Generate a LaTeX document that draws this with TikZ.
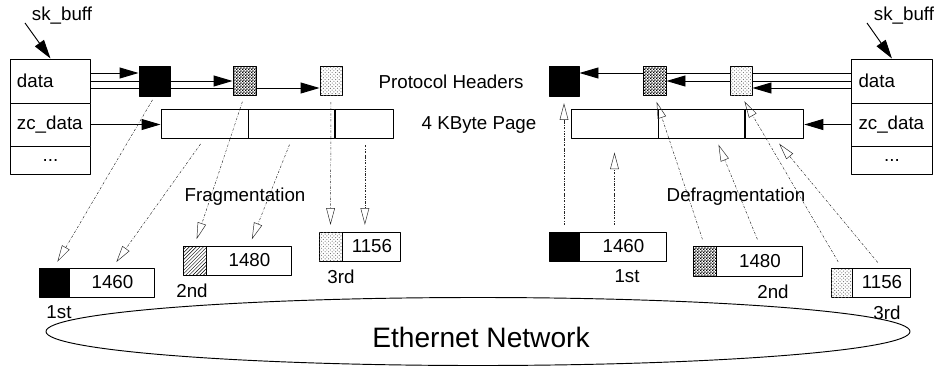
\documentclass[tikz,border=0pt]{standalone}
\usepackage{fontspec}
\setmainfont{Liberation Sans}
\usepackage{tikz}
\usetikzlibrary{positioning, calc, arrows.meta, patterns, shapes.geometric, backgrounds}

\newcommand{\pxu}{0.03cm}
\pgfdeclarepatternformonly{fine checks}{\pgfqpoint{0pt}{0pt}}{\pgfqpoint{2.4pt}{2.4pt}}{\pgfqpoint{2.4pt}{2.4pt}}{%
  \pgfpathrectangle{\pgfqpoint{0pt}{0pt}}{\pgfqpoint{1.2pt}{1.2pt}}%
  \pgfpathrectangle{\pgfqpoint{1.2pt}{1.2pt}}{\pgfqpoint{1.2pt}{1.2pt}}%
  \pgfusepath{fill}}

\begin{document}
\begin{tikzpicture}[x=0.03cm, y=-0.03cm, line join=round,
    lbl/.style={font=\fontsize{16}{19}\selectfont, inner sep=0pt},
    box/.style={draw, line width=0.8pt, inner sep=0pt, fill=white, minimum height=29*\pxu},
    skrow/.style={box, lbl, text width=2.01cm, inner xsep=0.2cm, align=left},
    hdrblack/.style={box, fill=black},
    hdrdark/.style={box, postaction={pattern=fine checks}},
    hdrlight/.style={box, postaction={pattern=crosshatch dots, pattern color=black!60}},
    hdrhatch/.style={box, postaction={pattern=north east lines}},
    ptr/.style={line width=0.8pt, -{Triangle[length=0.57cm, width=0.33cm]}},
    frag/.style={line width=0.4pt, black!85, dash pattern=on 2pt off 1.2pt on 0.4pt off 1.2pt,
                 -{Triangle[open, length=0.5cm, width=0.26cm, line width=0.4pt]},
                 shorten <=0.2cm, shorten >=0.2cm},
    node distance=0pt]
                \useasboundingbox (0,0) rectangle (936,366);
                % left sk_buff
                \node[skrow, minimum height=44*\pxu] (lsk1) at (50.5,81) {data};
                \node[skrow, minimum height=43*\pxu] (lsk2) at (50.5,124.5) {zc\_data};
                \node[skrow, minimum height=28*\pxu, align=center] (lsk3) at (50.5,160) {...};
                \node[lbl] (lskl) at (62,16) {sk\_buff};
                \coordinate (lskp) at (25,23);
                % right sk_buff
                \node[skrow, minimum height=44*\pxu] (rsk1) at (892,81) {data};
                \node[skrow, minimum height=43*\pxu] (rsk2) at (892,124.5) {zc\_data};
                \node[skrow, minimum height=28*\pxu, align=center] (rsk3) at (892,160) {...};
                \node[lbl] (rskl) at (904,16) {sk\_buff};
                \coordinate (rskp) at (867,23);
                % protocol headers
                \node[hdrblack, minimum width=31*\pxu, minimum height=30*\pxu] (lh1) at (154.5,81) {};
                \node[hdrdark, minimum width=23*\pxu] (lh2) at (244.5,80.5) {};
                \node[hdrlight, minimum width=22*\pxu] (lh3) at (331,80.5) {};
                \node[hdrblack, minimum width=30*\pxu, minimum height=30*\pxu] (rh1) at (564,81) {};
                \node[hdrdark, minimum width=23*\pxu] (rh2) at (654.5,80.5) {};
                \node[hdrlight, minimum width=22*\pxu] (rh3) at (741,80.5) {};
                \node[lbl] (hdrl) at (451,82) {Protocol Headers};
                % 4 KByte pages
                \node[box, minimum width=87*\pxu] (lp1) at (204.5,123.5) {};
                \node[box, minimum width=86*\pxu, right=of lp1] (lp2) {};
                \node[box, minimum width=58*\pxu, right=of lp2] (lp3) {};
                \node[box, minimum width=87*\pxu] (rp1) at (614.5,123.5) {};
                \node[box, minimum width=86*\pxu, right=of rp1] (rp2) {};
                \node[box, minimum width=58*\pxu, right=of rp2] (rp3) {};
                \node[lbl] (pagel) at (479,125) {4 KByte Page};
                % pointers
                \begin{scope}[on background layer]
                \coordinate (ld1) at ($(lsk1.east)+(0,-8)$);
                \coordinate (ld2) at (lsk1.east);
                \coordinate (ld3) at ($(lsk1.east)+(0,7)$);
                \draw[ptr] (ld1) -- (ld1 -| lh1.west);
                \draw[ptr] (ld2) -- (ld2 -| lh2.west);
                \draw[ptr] (ld3) -- (ld3 -| lh3.west);
                \coordinate (rd1) at ($(rsk1.west)+(0,-8)$);
                \coordinate (rd2) at (rsk1.west);
                \coordinate (rd3) at ($(rsk1.west)+(0,7)$);
                \draw[ptr] (rd1) -- (rd1 -| rh1.east);
                \draw[ptr] (rd2) -- (rd2 -| rh2.east);
                \draw[ptr] (rd3) -- (rd3 -| rh3.east);
                \end{scope}
                \draw[ptr] (lsk2.east) -- (lsk2.east -| lp1.west);
                \draw[ptr] (rsk2.west) -- (rsk2.west -| rp3.east);
                \draw[ptr] (lskp) -- (lsk1.north);
                \draw[ptr] (rskp) -- (rsk1.north);
                % fragments, sending side
                \node[hdrblack, minimum width=30*\pxu] (lf1h) at (54,282.5) {};
                \node[box, lbl, minimum width=85*\pxu, minimum height=29*\pxu, right=of lf1h] (lf1d) {1460};
                \node[hdrhatch, minimum width=23*\pxu] (lf2h) at (194.5,260.5) {};
                \node[box, lbl, minimum width=85*\pxu, minimum height=29*\pxu, right=of lf2h] (lf2d) {1480};
                \node[hdrlight, minimum width=23*\pxu] (lf3h) at (330.5,246.5) {};
                \node[box, lbl, minimum width=58*\pxu, minimum height=29*\pxu, right=of lf3h] (lf3d) {1156};
                \node[lbl] (lf1l) at (59,312) {1st};
                \node[lbl] (lf2l) at (192,291) {2nd};
                \node[lbl] (lf3l) at (341,277) {3rd};
                \node[lbl] (fragl) at (245,197) {Fragmentation};
                % fragments, receiving side
                \node[hdrblack, minimum width=30*\pxu] (rf1h) at (564,246.5) {};
                \node[box, lbl, minimum width=87*\pxu, minimum height=29*\pxu, right=of rf1h] (rf1d) {1460};
                \node[hdrdark, minimum width=23*\pxu, minimum height=30*\pxu] (rf2h) at (704.5,261) {};
                \node[box, lbl, minimum width=86*\pxu, minimum height=30*\pxu, right=of rf2h] (rf2d) {1480};
                \node[hdrlight, minimum width=21*\pxu] (rf3h) at (841.5,282.5) {};
                \node[box, lbl, minimum width=58*\pxu, minimum height=29*\pxu, right=of rf3h] (rf3d) {1156};
                \node[lbl] (rf1l) at (627,276) {1st};
                \node[lbl] (rf2l) at (773,292) {2nd};
                \node[lbl] (rf3l) at (887,313) {3rd};
                \node[lbl] (defragl) at (736,197) {Defragmentation};
                % fragmentation arrows
                \draw[frag, shorten <=0.12cm] (lh1.south) -- (lf1h.north);
                \draw[frag] (lp1.south) -- (lf1d.north);
                \draw[frag] (lh2.south) -- (lf2h.north);
                \draw[frag] (lp2.south) -- (lf2d.north);
                \draw[frag] (lh3.south) -- (lf3h.north);
                \draw[frag] (lp3.south) -- (lp3.south |- lf3d.north);
                % defragmentation arrows
                \draw[frag] (rf1h.north) -- (rh1.south);
                \draw[frag, shorten >=0.42cm] (rp1.south |- rf1d.north) -- (rp1.south);
                \draw[frag] (rf2h.north) -- (rh2.south);
                \draw[frag] (rf2d.north) -- ([xshift=0.42cm]rp2.south);
                \draw[frag] (rf3h.north) -- (rh3.south);
                \draw[frag] (rf3d.north) -- (rp3.south);
                % network
                \node[draw, ellipse, line width=0.8pt, inner sep=0pt, minimum width=864*\pxu, minimum height=68*\pxu] (net) at (478,331.5) {};
                \node[font=\fontsize{24}{28}\selectfont, inner sep=0pt] (netl) at (481,337) {Ethernet Network};
        \end{tikzpicture}
\end{document}
